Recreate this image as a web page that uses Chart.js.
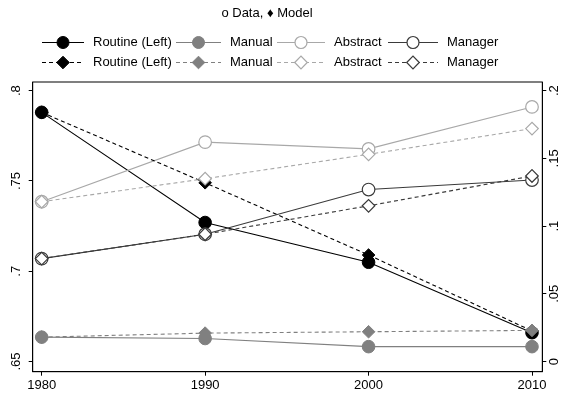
<!DOCTYPE html>
<html>
<head>
<meta charset="utf-8">
<script src="https://cdn.jsdelivr.net/npm/chart.js"></script>
<style>
  html, body { margin: 0; padding: 0; background: #fff; }
  #wrap { width: 561px; height: 400px; position: relative; }
</style>
</head>
<body>
<div id="wrap"><canvas id="chart"></canvas></div>
<script>
// Datos
const years = [1980, 1990, 2000, 2010];
const routineData  = [0.788, 0.727, 0.705, 0.666];
const routineModel = [0.788, 0.749, 0.709, 0.667];
const manualData   = [0.018, 0.017, 0.011, 0.011];
const manualModel  = [0.018, 0.021, 0.022, 0.023];
const abstractData  = [0.118, 0.162, 0.157, 0.188];
const abstractModel = [0.118, 0.135, 0.153, 0.172];
const managerData  = [0.076, 0.094, 0.127, 0.134];
const managerModel = [0.076, 0.094, 0.115, 0.137];

const xTicks = [1980, 1990, 2000, 2010];
const leftTicks = [0.65, 0.7, 0.75, 0.8];
const rightTicks = [0, 0.05, 0.1, 0.15, 0.2];
const seriesNames = ['Routine (Left)', 'Manual', 'Abstract', 'Manager'];
const titleText = 'o Data, \u2666 Model';

const FONT = '"Liberation Sans", Arial, Helvetica, sans-serif';
Chart.defaults.font.family = FONT;
Chart.defaults.font.size = 13;
Chart.defaults.color = '#000';

// Colores tipo Stata
const colors = ['#000000', '#808080', '#a8a8a8', '#3a3a3a'];
const filled = [true, true, false, false];

// Formato de etiquetas sin cero inicial (.75, .05)
function fmt(v) {
    if (v === 0) return '0';
    return String(+v.toFixed(2)).replace(/^0\./, '.');
}

function serie(name, values, k, model) {
    return {
        label: name,
        data: years.map((y, i) => ({ x: y, y: values[i] })),
        yAxisID: k === 0 ? 'y' : 'y2',
        borderColor: colors[k],
        borderWidth: 1.1,
        borderDash: model ? [4, 3] : [],
        pointStyle: model ? 'rectRot' : 'circle',
        pointRadius: model ? 6.3 : 6.3,
        pointBackgroundColor: filled[k] ? colors[k] : '#fff',
        pointBorderColor: colors[k],
        pointBorderWidth: filled[k] ? 1 : 1.2,
        tension: 0,
        fill: false
    };
}

const datasets = [
    serie(seriesNames[0], routineData, 0, false),
    serie(seriesNames[1], manualData, 1, false),
    serie(seriesNames[2], abstractData, 2, false),
    serie(seriesNames[3], managerData, 3, false),
    serie(seriesNames[0], routineModel, 0, true),
    serie(seriesNames[1], manualModel, 1, true),
    serie(seriesNames[2], abstractModel, 2, true),
    serie(seriesNames[3], managerModel, 3, true)
];
// los últimos se dibujan encima, como en Stata
datasets.forEach((d, i) => { d.order = -i; });

// Posiciones de la leyenda (columnas y filas)
const legendTextX = [93, 230, 334, 447];
const legendLineX = [42, 176, 277, 388];
const legendRowY = [42.5, 62.5];

function marker(ctx, style, x, y, r) {
    ctx.beginPath();
    if (style === 'circle') {
        ctx.arc(x, y, r, 0, Math.PI * 2);
    } else {
        ctx.moveTo(x - r, y);
        ctx.lineTo(x, y - r);
        ctx.lineTo(x + r, y);
        ctx.lineTo(x, y + r);
        ctx.closePath();
    }
    ctx.fill();
    ctx.stroke();
}

const marco = {
    id: 'marco',
    beforeDatasetsDraw(chart) {
        const a = chart.chartArea, ctx = chart.ctx;
        ctx.save();
        ctx.strokeStyle = '#000';
        ctx.lineWidth = 1;
        ctx.strokeRect(a.left, a.top, a.right - a.left, a.bottom - a.top);
        ctx.restore();
    }
};

const leyenda = {
    id: 'leyenda',
    afterDraw(chart) {
        const ctx = chart.ctx;
        ctx.save();
        ctx.font = '13px ' + FONT;
        ctx.fillStyle = '#000';
        ctx.textBaseline = 'middle';
        ctx.textAlign = 'center';
        ctx.fillText(titleText, 267, 13.5);
        ctx.textAlign = 'left';
        chart.data.datasets.forEach((ds, i) => {
            const col = i % 4, row = Math.floor(i / 4);
            const y = legendRowY[row];
            const x0 = legendLineX[col], x1 = legendTextX[col] - 9;
            ctx.strokeStyle = ds.borderColor;
            ctx.lineWidth = 1.1;
            ctx.setLineDash(ds.borderDash);
            ctx.beginPath();
            ctx.moveTo(x0, y);
            ctx.lineTo(x1, y);
            ctx.stroke();
            ctx.setLineDash([]);
            ctx.fillStyle = ds.pointBackgroundColor;
            ctx.lineWidth = ds.pointBorderWidth;
            marker(ctx, ds.pointStyle, (x0 + x1) / 2, y, ds.pointStyle === 'circle' ? 6 : 6.3);
            ctx.fillStyle = '#000';
            ctx.fillText(ds.label, legendTextX[col], y);
        });
        ctx.restore();
    }
};

const gridOpts = { display: true, drawOnChartArea: false, drawTicks: true, tickLength: 4, color: '#000' };
const borderOpts = { display: true, color: '#000', width: 1 };

new Chart(document.getElementById('chart'), {
    type: 'line',
    data: { datasets: datasets },
    plugins: [marco, leyenda],
    options: {
        responsive: true,
        maintainAspectRatio: false,
        animation: false,
        events: [],
        layout: { padding: { top: 82, left: 0, right: 0, bottom: 0 } },
        plugins: {
            legend: { display: false },
            title: { display: false },
            tooltip: { enabled: false }
        },
        scales: {
            x: {
                type: 'linear',
                min: 1979.45,
                max: 2010.63,
                afterBuildTicks: s => { s.ticks = xTicks.map(v => ({ value: v })); },
                afterFit: s => { s.height = 28.3; },
                ticks: { callback: v => String(v), padding: 2, autoSkip: false, maxRotation: 0 },
                grid: gridOpts,
                border: borderOpts
            },
            y: {
                type: 'linear',
                position: 'left',
                min: 0.6444,
                max: 0.8048,
                afterBuildTicks: s => { s.ticks = leftTicks.map(v => ({ value: v })); },
                afterFit: s => { s.width = 32.7; },
                ticks: { callback: v => fmt(v), minRotation: 90, maxRotation: 90, crossAlign: 'center', padding: 3.6, autoSkip: false },
                grid: gridOpts,
                border: borderOpts
            },
            y2: {
                type: 'linear',
                position: 'right',
                min: -0.0075,
                max: 0.2064,
                afterBuildTicks: s => { s.ticks = rightTicks.map(v => ({ value: v })); },
                afterFit: s => { s.width = 18.7; },
                ticks: { callback: v => fmt(v), minRotation: 90, maxRotation: 90, crossAlign: 'center', padding: -0.8, autoSkip: false },
                grid: gridOpts,
                border: borderOpts
            }
        }
    }
});
</script>
</body>
</html>
